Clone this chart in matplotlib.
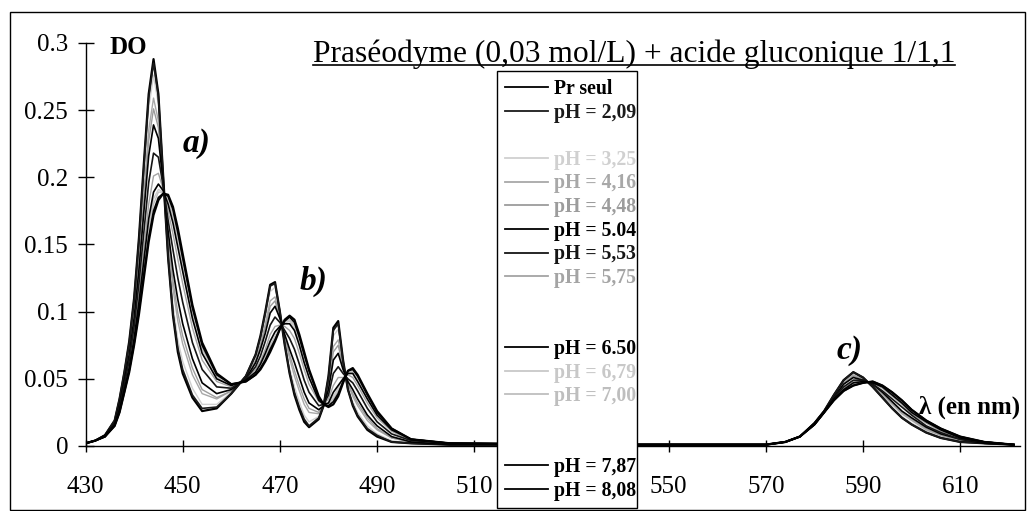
import matplotlib
matplotlib.use("Agg")
import matplotlib.pyplot as plt
from matplotlib.lines import Line2D
from matplotlib.patches import Rectangle

plt.rcParams['font.family'] = ['Liberation Serif', 'DejaVu Serif']

# ---------------- data ----------------
wavelength = [430, 432, 434, 436, 437, 438, 439, 440, 441, 442,
              443, 444, 445, 446, 447, 448, 449, 450, 452, 454,
              457, 460, 463, 465, 466, 467, 468, 469, 470, 471,
              472, 473, 474, 475, 476, 478, 479, 480, 481, 482,
              483, 484, 485, 486, 488, 490, 493, 497, 505, 540,
              570, 574, 577, 580, 582, 584, 586, 588, 590, 592,
              594, 596, 598, 600, 603, 606, 610, 615, 621]

do_pr_seul = [.002, .004, .008, .019, .035, .055, .078, .110, .155, .210,
              .262, .288, .262, .200, .140, .097, .070, .054, .036, .026,
              .028, .039, .052, .068, .082, .100, .120, .122, .100, .075,
              .054, .038, .027, .018, .014, .020, .030, .052, .088, .093,
              .064, .042, .030, .022, .012, .007, .003, .002, .001, .001,
              .001, .003, .007, .017, .026, .038, .049, .055, .051, .044,
              .036, .028, .021, .016, .010, .006, .003, .002, .001]
do_ph_2_09 = [.002, .004, .008, .019, .035, .055, .077, .109, .153, .207,
              .259, .285, .260, .200, .141, .099, .073, .057, .038, .028,
              .029, .039, .052, .068, .081, .099, .119, .121, .100, .076,
              .055, .040, .029, .020, .015, .021, .030, .051, .086, .091,
              .063, .042, .031, .023, .013, .008, .003, .002, .001, .001,
              .001, .003, .007, .017, .026, .038, .049, .055, .051, .044,
              .036, .028, .021, .016, .010, .006, .003, .002, .001]
do_ph_3_25 = [.002, .004, .008, .019, .034, .054, .076, .107, .149, .202,
              .251, .276, .254, .199, .145, .105, .079, .063, .043, .031,
              .031, .040, .052, .067, .080, .096, .115, .118, .099, .077,
              .058, .044, .033, .023, .018, .022, .030, .050, .082, .087,
              .062, .043, .033, .025, .015, .009, .004, .002, .001, .001,
              .001, .003, .007, .017, .026, .038, .048, .054, .051, .044,
              .037, .029, .022, .017, .011, .007, .003, .002, .001]
do_ph_4_16 = [.002, .004, .008, .018, .033, .051, .072, .101, .141, .189,
              .235, .259, .242, .197, .152, .117, .093, .076, .053, .039,
              .035, .041, .051, .064, .076, .091, .108, .111, .097, .080,
              .065, .052, .041, .031, .025, .024, .030, .046, .074, .079,
              .060, .046, .037, .030, .019, .012, .006, .003, .001, .001,
              .001, .003, .007, .017, .026, .037, .047, .053, .050, .045,
              .038, .031, .024, .019, .012, .008, .004, .002, .001]
do_ph_4_48 = [.002, .004, .008, .018, .032, .050, .071, .099, .137, .183,
              .227, .251, .237, .196, .155, .123, .099, .082, .058, .042,
              .036, .041, .051, .063, .074, .088, .104, .108, .096, .081,
              .068, .056, .045, .035, .028, .025, .030, .045, .070, .075,
              .059, .046, .039, .032, .021, .013, .006, .003, .001, .001,
              .001, .003, .007, .017, .026, .037, .046, .052, .050, .045,
              .039, .032, .025, .020, .013, .008, .004, .002, .001]
do_ph_5_04 = [.002, .004, .008, .017, .031, .049, .068, .095, .131, .174,
              .216, .239, .229, .195, .160, .131, .109, .091, .065, .047,
              .039, .042, .050, .062, .072, .084, .099, .104, .095, .083,
              .072, .062, .051, .040, .032, .027, .030, .042, .064, .069,
              .057, .048, .042, .035, .023, .015, .007, .003, .001, .001,
              .001, .003, .007, .017, .026, .036, .046, .051, .049, .046,
              .040, .033, .026, .021, .014, .009, .005, .002, .001]
do_ph_5_53 = [.002, .004, .007, .017, .029, .046, .064, .089, .121, .159,
              .196, .218, .215, .193, .168, .146, .125, .107, .077, .057,
              .044, .043, .050, .059, .067, .078, .090, .096, .092, .086,
              .080, .072, .061, .049, .040, .030, .031, .038, .054, .059,
              .054, .050, .047, .041, .028, .018, .009, .004, .002, .001,
              .001, .003, .007, .016, .025, .036, .044, .049, .049, .046,
              .041, .035, .029, .023, .015, .010, .005, .003, .001]
do_ph_5_75 = [.002, .004, .007, .016, .028, .044, .061, .084, .112, .146,
              .180, .201, .203, .191, .175, .158, .139, .121, .088, .064,
              .048, .044, .049, .057, .063, .072, .083, .089, .090, .089,
              .086, .080, .069, .057, .046, .033, .031, .035, .045, .051,
              .051, .053, .051, .045, .032, .021, .011, .004, .002, .001,
              .001, .003, .007, .016, .025, .035, .043, .048, .048, .047,
              .043, .037, .031, .024, .017, .011, .006, .003, .001]
do_ph_6_50 = [.002, .004, .007, .016, .027, .042, .058, .080, .107, .138,
              .169, .189, .195, .190, .180, .166, .148, .130, .095, .069,
              .050, .045, .049, .055, .061, .069, .078, .085, .089, .091,
              .091, .086, .075, .062, .051, .034, .031, .032, .040, .045,
              .050, .054, .054, .048, .035, .023, .012, .005, .002, .001,
              .001, .003, .007, .016, .025, .035, .042, .047, .048, .047,
              .044, .038, .032, .025, .018, .012, .006, .003, .001]
do_ph_6_79 = [.002, .004, .007, .015, .026, .042, .057, .079, .104, .134,
              .163, .184, .191, .189, .182, .170, .153, .134, .098, .072,
              .051, .045, .048, .055, .060, .067, .075, .082, .088, .092,
              .093, .088, .077, .065, .053, .035, .031, .031, .037, .043,
              .049, .055, .055, .050, .036, .024, .012, .005, .002, .001,
              .001, .003, .007, .016, .025, .034, .042, .046, .047, .048,
              .044, .039, .033, .026, .018, .012, .007, .003, .001]
do_ph_7_00 = [.002, .004, .007, .015, .026, .041, .057, .077, .102, .131,
              .160, .180, .189, .189, .184, .172, .156, .137, .100, .073,
              .052, .046, .048, .054, .059, .066, .074, .081, .088, .093,
              .094, .090, .079, .066, .054, .036, .031, .031, .035, .041,
              .048, .055, .056, .051, .037, .025, .012, .005, .002, .001,
              .001, .003, .007, .016, .025, .034, .042, .046, .047, .048,
              .044, .039, .033, .026, .018, .013, .007, .003, .001]
do_ph_7_87 = [.002, .004, .007, .015, .025, .040, .056, .076, .100, .128,
              .155, .175, .185, .188, .186, .176, .159, .140, .103, .075,
              .053, .046, .048, .053, .058, .064, .072, .079, .087, .093,
              .096, .092, .081, .068, .056, .036, .031, .030, .033, .039,
              .048, .056, .057, .052, .038, .025, .013, .005, .002, .001,
              .001, .003, .007, .016, .025, .034, .041, .045, .047, .048,
              .045, .040, .034, .027, .019, .013, .007, .003, .001]
do_ph_8_08 = [.002, .004, .007, .015, .025, .040, .055, .075, .098, .125,
              .152, .172, .183, .188, .187, .178, .162, .143, .105, .077,
              .054, .046, .048, .053, .057, .063, .070, .078, .087, .094,
              .097, .094, .083, .070, .057, .037, .031, .029, .031, .037,
              .047, .056, .058, .053, .039, .026, .013, .005, .002, .001,
              .001, .003, .007, .016, .025, .034, .041, .045, .047, .048,
              .045, .040, .034, .027, .019, .013, .007, .003, .001]

series_labels = ["Pr seul", "pH = 2,09", "pH = 3,25", "pH = 4,16", "pH = 4,48",
                 "pH = 5.04", "pH = 5,53", "pH = 5,75", "pH = 6.50", "pH = 6,79",
                 "pH = 7,00", "pH = 7,87", "pH = 8,08"]
series_values = [do_pr_seul, do_ph_2_09, do_ph_3_25, do_ph_4_16, do_ph_4_48,
                 do_ph_5_04, do_ph_5_53, do_ph_5_75, do_ph_6_50, do_ph_6_79,
                 do_ph_7_00, do_ph_7_87, do_ph_8_08]
series_colors = ["#000000", "#1a1a1a", "#d0d0d0", "#a8a8a8", "#9c9c9c",
                 "#000000", "#151515", "#a4a4a4", "#000000", "#c8c8c8",
                 "#bebebe", "#000000", "#000000"]
# legend rows (None = empty row in the original legend)
legend_rows = ["Pr seul", "pH = 2,09", None, "pH = 3,25", "pH = 4,16", "pH = 4,48",
               "pH = 5.04", "pH = 5,53", "pH = 5,75", None, None, "pH = 6.50",
               "pH = 6,79", "pH = 7,00", None, None, "pH = 7,87", "pH = 8,08"]

x_ticks = [430, 450, 470, 490, 510, 530, 550, 570, 590, 610]
# the "530" label is hidden behind the legend box in the original
x_ticklabels = ["430", "450", "470", "490", "510", "", "550", "570", "590", "610"]
y_ticks = [0, 0.05, 0.1, 0.15, 0.2, 0.25, 0.3]
y_ticklabels = ["0", "0.05", "0.1", "0.15", "0.2", "0.25", "0.3"]

# ---------------- figure ----------------
W, H = 1030, 511
fig = plt.figure(figsize=(W / 100, H / 100), dpi=100)


def fx(px):
    return px / W


def fy(py):
    return 1 - py / H


ax = fig.add_axes([fx(85.5), fy(446), fx(1020) - fx(85.5), fy(43) - fy(446)])

lines = {}
for lab, vals, col in zip(series_labels, series_values, series_colors):
    black = col in ("#000000", "#1a1a1a", "#151515")
    lw = 1.6 if lab in ("Pr seul", "pH = 8,08") else (1.2 if black else 1.0)
    ln, = ax.plot(wavelength, vals, color=col, lw=lw, zorder=3 if black else 2,
                  solid_joinstyle='round')
    lines[lab] = ln

ax.set_xlim(430, 622.3)
ax.set_ylim(0, 0.3)
ax.set_xticks(x_ticks)
ax.set_xticklabels(x_ticklabels)
ax.set_yticks(y_ticks)
ax.set_yticklabels(y_ticklabels)
for s in ("top", "right"):
    ax.spines[s].set_visible(False)
for s in ("left", "bottom"):
    ax.spines[s].set_linewidth(1.0)
    ax.spines[s].set_color("black")
ax.tick_params(axis='y', direction='inout', length=12, width=1, pad=6.5,
               labelsize=18)
ax.tick_params(axis='x', direction='inout', length=8.5, width=1, pad=17,
               labelsize=18)
ax.patch.set_visible(False)

# texts
fig.text(fx(128), fy(47), "DO", ha='center', va='center', fontsize=18,
         fontweight='bold')
title = fig.text(fx(634), fy(62), "Praséodyme (0,03 mol/L) + acide gluconique 1/1,1",
                 ha='center', va='baseline', fontsize=22.7)
fig.text(fx(197), fy(143), "a)", ha='center', va='center', fontsize=24,
         fontweight='bold', fontstyle='italic')
fig.text(fx(314), fy(281), "b)", ha='center', va='center', fontsize=24,
         fontweight='bold', fontstyle='italic')
fig.text(fx(850), fy(350), "c)", ha='center', va='center', fontsize=24,
         fontweight='bold', fontstyle='italic')
fig.text(fx(970), fy(407), "λ (en nm)", ha='center', va='center', fontsize=18,
         fontweight='bold')

# underline of the title
renderer = fig.canvas.get_renderer()
bb = title.get_window_extent(renderer)
fig.add_artist(Line2D([bb.x0 / W, bb.x1 / W], [fy(65.5), fy(65.5)],
                      transform=fig.transFigure, color='black', lw=1.2))

# legend box (drawn as a figure rectangle so that it reaches the bottom edge)
fig.add_artist(Rectangle((fx(497), fy(508)), fx(637) - fx(497), fy(71) - fy(508),
                         transform=fig.transFigure, facecolor='white',
                         edgecolor='black', lw=1.0, zorder=4))

handles, labels = [], []
for row in legend_rows:
    if row is None:
        handles.append(Line2D([], [], color='none'))
        labels.append(" ")
    else:
        handles.append(lines[row])
        labels.append(row)
leg = fig.legend(handles, labels, loc='upper left',
                 bbox_to_anchor=(fx(497), fy(71)), bbox_transform=fig.transFigure,
                 borderaxespad=0, frameon=False,
                 handlelength=2.2, handletextpad=0.3, borderpad=0.4,
                 labelspacing=0.185,
                 prop={'family': ['Liberation Serif'], 'weight': 'bold', 'size': 14.2})
leg.set_zorder(5)
for txt, row in zip(leg.get_texts(), legend_rows):
    if row is not None:
        c = series_colors[series_labels.index(row)]
        txt.set_color(c)
for lh, row in zip(leg.legend_handles, legend_rows):
    if row is not None:
        lh.set_linewidth(1.3)

# outer frame of the picture
fig.add_artist(Rectangle((fx(9.5), fy(510)), fx(1025) - fx(9.5), fy(12) - fy(510),
                         transform=fig.transFigure, fill=False, lw=1.0,
                         edgecolor='black', zorder=0))

fig.savefig("out.png", dpi=100)
